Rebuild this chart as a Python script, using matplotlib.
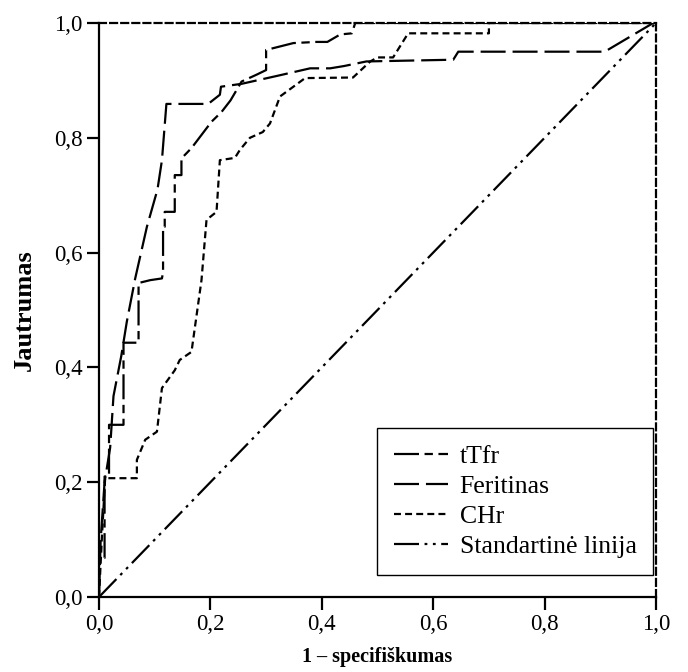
import matplotlib
matplotlib.use("Agg")
import matplotlib.pyplot as plt
from matplotlib.lines import Line2D

plt.rcParams['font.family'] = ['Liberation Serif', 'DejaVu Serif']
plt.rcParams['lines.scale_dashes'] = False

# ROC curves (1 - specificity, sensitivity)
ttfr_x = [0, 0, 0.01, 0.01, 0.018, 0.018, 0.044, 0.044, 0.071, 0.071, 0.092, 0.113, 0.115, 0.115,
          0.118, 0.118, 0.136, 0.136, 0.148, 0.148, 0.166, 0.184, 0.202, 0.22, 0.236, 0.256,
          0.283, 0.30, 0.30, 0.349, 0.39, 0.41, 0.433, 0.454, 0.46, 1.0]
ttfr_y = [0, 0.068, 0.068, 0.21, 0.21, 0.30, 0.30, 0.443, 0.443, 0.547, 0.552, 0.555, 0.566, 0.645,
          0.645, 0.671, 0.671, 0.735, 0.735, 0.764, 0.782, 0.805, 0.828, 0.845, 0.865, 0.898,
          0.91, 0.918, 0.953, 0.965, 0.967, 0.967, 0.98, 0.982, 1.0, 1.0]

ferit_x = [0, 0.003, 0.01, 0.02, 0.026, 0.04, 0.05, 0.053, 0.065, 0.086, 0.105, 0.113, 0.121,
           0.196, 0.217, 0.219, 0.256, 0.325, 0.379, 0.415, 0.44, 0.48, 0.636, 0.645, 0.908, 0.995, 1.0]
ferit_y = [0, 0.10, 0.20, 0.26, 0.35, 0.42, 0.48, 0.495, 0.555, 0.645, 0.71, 0.761, 0.859,
           0.859, 0.875, 0.889, 0.894, 0.909, 0.921, 0.921, 0.925, 0.933, 0.936, 0.95, 0.95, 1.0, 1.0]

chr_x = [0, 0.005, 0.011, 0.068, 0.068, 0.083, 0.104, 0.113, 0.136, 0.145, 0.166, 0.184, 0.193,
         0.211, 0.217, 0.244, 0.253, 0.271, 0.294, 0.307, 0.325, 0.349, 0.37, 0.456, 0.487,
         0.5, 0.528, 0.555, 0.70, 0.70, 1.0]
chr_y = [0, 0.10, 0.207, 0.207, 0.239, 0.274, 0.288, 0.364, 0.395, 0.413, 0.427, 0.552, 0.657,
         0.671, 0.761, 0.765, 0.779, 0.80, 0.81, 0.825, 0.872, 0.889, 0.904, 0.905, 0.933,
         0.94, 0.94, 0.982, 0.982, 1.0, 1.0]

ref_x = [0, 1]
ref_y = [0, 1]

labels = ['tTfr', 'Feritinas', 'CHr', 'Standartinė linija']
ticks = [0.0, 0.2, 0.4, 0.6, 0.8, 1.0]
tick_labels = ['0,0', '0,2', '0,4', '0,6', '0,8', '1,0']

fig = plt.figure(figsize=(6.88, 6.72), dpi=100)
ax = fig.add_axes([0.1439, 0.1116, 0.8096, 0.8542])

lw = 1.6
styles = [(0, (18, 4, 6, 4)), (0, (18, 5)), (0, (5, 3)), (0, (18, 4, 2, 4, 2, 4))]
ax.plot(ref_x, ref_y, color='black', lw=lw, linestyle=styles[3], label=labels[3])
ax.plot(chr_x, chr_y, color='black', lw=lw, linestyle=styles[2], label=labels[2])
ax.plot(ferit_x, ferit_y, color='black', lw=lw, linestyle=styles[1], label=labels[1])
ax.plot(ttfr_x, ttfr_y, color='black', lw=lw, linestyle=styles[0], label=labels[0])

ax.set_xlim(0, 1)
ax.set_ylim(0, 1)
ax.set_xticks(ticks)
ax.set_xticklabels(tick_labels)
ax.set_yticks(ticks)
ax.set_yticklabels(tick_labels)
ax.tick_params(direction='out', length=9, width=1.6, labelsize=16.5, colors='black', pad=3)

for s in ['left', 'bottom']:
    ax.spines[s].set_linewidth(1.6)
for s in ['top', 'right']:
    ax.spines[s].set_linewidth(1.6)
    ax.spines[s].set_linestyle((0, (5, 3)))

ax.set_xlabel('1 – specifiškumas', fontsize=14.5, fontweight='bold', labelpad=9)
ax.set_ylabel('Jautrumas', fontsize=19, fontweight='bold', labelpad=13)

handles = [Line2D([], [], color='black', lw=lw, linestyle=st) for st in styles]
leg = ax.legend(handles, labels, loc='lower right', bbox_to_anchor=(0.995, 0.038),
                borderaxespad=0, fancybox=False, edgecolor='black', framealpha=1,
                fontsize=18.5, handlelength=2.1, handletextpad=0.45, labelspacing=0.28,
                borderpad=0.65)
leg.get_frame().set_linewidth(1.0)

fig.savefig('out.png', dpi=100)
